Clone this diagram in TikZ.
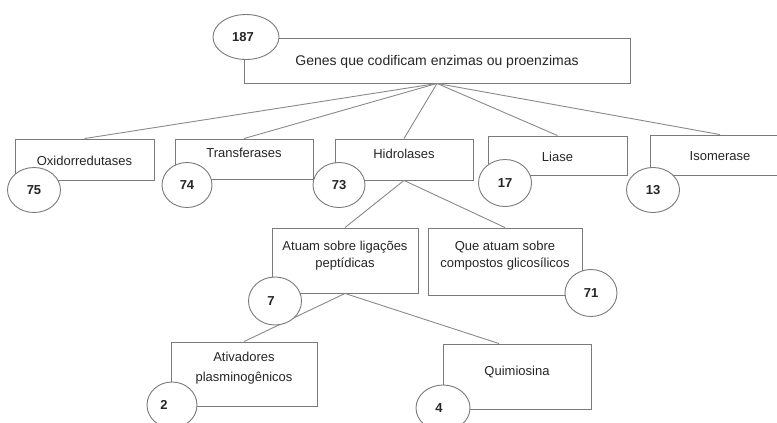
\documentclass[tikz,border=0pt]{standalone}
\usepackage{fontspec}
\setmainfont{Liberation Sans}
\usetikzlibrary{shapes.geometric}
\definecolor{edgegray}{HTML}{8A8A8A}
\definecolor{boxgray}{HTML}{7A7A7A}
\definecolor{txtgray}{HTML}{262626}
\begin{document}
\begin{tikzpicture}[x=1pt,y=-1pt,
  conn/.style={draw=edgegray,line width=0.9pt},
  box/.style={draw=boxgray,fill=white,line width=0.9pt,rectangle,inner sep=0pt},
  txt/.style={text=txtgray,font=\fontsize{13}{17}\selectfont,align=center,inner sep=0pt},
  num/.style={ellipse,draw=boxgray,fill=white,line width=0.9pt,inner sep=0pt,text=txtgray,font=\fontsize{13}{15}\selectfont\bfseries}
]
\useasboundingbox[fill=white] (0,0) rectangle (777,423);

% boxes
\node[box,minimum width=386,minimum height=45,label={[txt,font=\fontsize{14}{17}\selectfont,yshift=-1.5pt]center:Genes que codificam enzimas ou proenzimas}] (main) at (437,60.5) {};

\node[box,minimum width=139,minimum height=41,label={[txt,yshift=-1.5pt]center:Oxidorredutases}] (oxi) at (84.5,159.5) {};
\node[box,minimum width=138,minimum height=40,label={[txt,yshift=6pt]center:Transferases}] (trans) at (244,159) {};
\node[box,minimum width=138,minimum height=41,label={[txt,yshift=6pt]center:Hidrolases}] (hid) at (404,159.5) {};
\node[box,minimum width=139,minimum height=39,label={[txt,yshift=-1.5pt]center:Liase}] (liase) at (557.5,155.5) {};
\node[box,minimum width=140,minimum height=40,label={[txt,yshift=-1pt]center:Isomerase}] (iso) at (720,155) {};

\node[box,minimum width=146,minimum height=65,label={[txt,yshift=5pt]center:Atuam sobre ligações\\peptídicas}] (atuam) at (345,260.5) {};
\node[box,minimum width=154,minimum height=67,label={[txt,yshift=6pt]center:Que atuam sobre\\compostos glicosílicos}] (que) at (505,261.5) {};

\node[box,minimum width=146,minimum height=64,label={[txt,font=\fontsize{13}{20}\selectfont,yshift=6pt]center:Ativadores\\plasminogênicos}] (ativ) at (244,374) {};
\node[box,minimum width=148,minimum height=65,label={[txt,yshift=4pt]center:Quimiosina}] (quim) at (517,376.5) {};

% connectors
\draw[conn] (main.south) -- (oxi.north);
\draw[conn] (main.south) -- (trans.north);
\draw[conn] (main.south) -- (hid.north);
\draw[conn] (main.south) -- (liase.north);
\draw[conn] (main.south) -- (iso.north);
\draw[conn] (hid.south) -- (atuam.north);
\draw[conn] (hid.south) -- (que.north);
\draw[conn] (atuam.south) -- (ativ.north);
\draw[conn] (atuam.south) -- ([xshift=-18pt]quim.north);

% count ellipses
\node[num,minimum width=66,minimum height=45] (n187) at (246,37) {\hspace*{-6pt}187};
\node[num,minimum width=53,minimum height=45] (n75) at (34,190) {75};
\node[num,minimum width=50,minimum height=45] (n74) at (187,185) {74};
\node[num,minimum width=52,minimum height=45] (n73) at (339,185) {73};
\node[num,minimum width=53,minimum height=47] (n17) at (505,183) {17};
\node[num,minimum width=53,minimum height=45] (n13) at (653,190) {13};
\node[num,minimum width=53,minimum height=48] (n7) at (275,301) {\hspace*{-8pt}7};
\node[num,minimum width=52,minimum height=47] (n71) at (591,293) {71};
\node[num,minimum width=50,minimum height=46] (n2) at (172,405) {\hspace*{-16pt}2};
\node[num,minimum width=54,minimum height=46] (n4) at (443,408) {\hspace*{-8pt}4};
\end{tikzpicture}
\end{document}
